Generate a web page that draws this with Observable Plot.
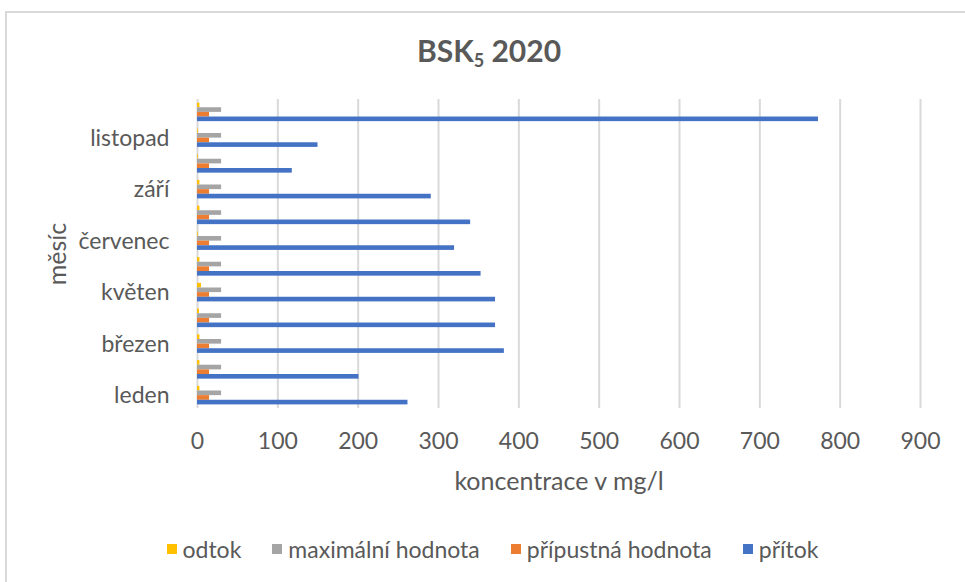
<!DOCTYPE html>
<html>
<head>
<meta charset="utf-8">
<script src="https://cdn.jsdelivr.net/npm/d3@7"></script>
<script src="https://cdn.jsdelivr.net/npm/@observablehq/plot@0.6"></script>
<style>
  html, body { margin: 0; padding: 0; background: #fff; }
  body { width: 965px; height: 582px; overflow: hidden; position: relative; font-family: Lato, "Noto Sans", sans-serif; color: #595959; }
  #frame { position: absolute; left: 5px; top: 11px; width: 1000px; height: 600px; border-top: 2px solid #d9d9d9; border-left: 2px solid #d9d9d9; box-sizing: border-box; }
  #title { position: absolute; top: 30px; left: 0; width: 978px; text-align: center; font-family: Lato, sans-serif; font-weight: bold; font-size: 30px; line-height: 40px; }
  #title sub { font-size: 0.6em; vertical-align: -0.25em; line-height: 0; }
  #chart { position: absolute; top: 70px; left: 0; }
  #legend { position: absolute; top: 534px; left: 0; width: 985px; display: flex; justify-content: center; gap: 31px; font-size: 23px; line-height: 30px; }
  .item { display: flex; align-items: center; }
  .sw { width: 10px; height: 10px; margin-right: 6px; }
</style>
</head>
<body>
<div id="frame"></div>
<div id="title">BSK<sub>5</sub> 2020</div>
<div id="chart"></div>
<div id="legend"></div>
<script>
const months = ["leden", "únor", "březen", "duben", "květen", "červen", "červenec", "srpen", "září", "říjen", "listopad", "prosinec"];
const pritok = [262, 201, 382, 371, 371, 353, 320, 340, 291, 118, 150, 773];
const pripustna = [15, 15, 15, 15, 15, 15, 15, 15, 15, 15, 15, 15];
const maximalni = [30, 30, 30, 30, 30, 30, 30, 30, 30, 30, 30, 30];
const odtok = [3, 3, 3, 2.5, 5, 3, 1, 3, 3, 1, 1, 3];
const seriesNames = ["odtok", "maximální hodnota", "přípustná hodnota", "přítok"];
const seriesColors = ["#FFC000", "#A5A5A5", "#ED7D31", "#4472C4"];
const xTicks = [0, 100, 200, 300, 400, 500, 600, 700, 800, 900];
const yTickLabels = ["leden", "březen", "květen", "červenec", "září", "listopad"];
const xLabel = "koncentrace v mg/l";
const yLabel = "měsíc";

const seriesValues = [odtok, maximalni, pripustna, pritok];

const H = 440, mt = 29, mb = 102;
const padInner = 0.28;
const step = (H - mt - mb) / 12;
const q = step * (1 - padInner) / 4;

const barMarks = seriesValues.map((vals, i) =>
  Plot.barX(months.map((m, j) => ({month: m, value: vals[j]})), {
    x: "value", y: "month", fill: seriesColors[i],
    insetTop: i * q, insetBottom: (3 - i) * q
  })
);

const chart = Plot.plot({
  width: 965, height: H,
  marginTop: mt, marginBottom: mb, marginLeft: 197, marginRight: 45,
  style: {fontFamily: "Lato, 'Noto Sans', sans-serif", color: "#595959", background: "transparent"},
  x: {domain: [0, 900], axis: null},
  y: {domain: months.slice().reverse(), type: "band", paddingInner: padInner, paddingOuter: padInner / 2, round: false, axis: null},
  marks: [
    Plot.gridX(xTicks, {stroke: "#d9d9d9", strokeOpacity: 1, strokeWidth: 2}),
    ...barMarks,
    Plot.axisX(xTicks, {tickSize: 0, tickPadding: 24, fontSize: 23, fill: "#595959", tickFormat: d => String(d), label: null}),
    Plot.axisY(yTickLabels, {tickSize: 0, tickPadding: 28, fontSize: 23, fill: "#595959", label: null}),
    Plot.text([xLabel], {frameAnchor: "bottom", lineAnchor: "middle", textAnchor: "middle", dy: 73, fontSize: 25, fill: "#595959"}),
    Plot.text([yLabel], {frameAnchor: "left", lineAnchor: "middle", textAnchor: "middle", dx: -140, rotate: -90, fontSize: 25, fill: "#595959"})
  ]
});
document.getElementById("chart").appendChild(chart);

const legend = document.getElementById("legend");
seriesNames.forEach((name, i) => {
  const item = document.createElement("div");
  item.className = "item";
  const sw = document.createElement("span");
  sw.className = "sw";
  sw.style.background = seriesColors[i];
  const t = document.createElement("span");
  t.textContent = name;
  item.appendChild(sw);
  item.appendChild(t);
  legend.appendChild(item);
});
</script>
</body>
</html>
